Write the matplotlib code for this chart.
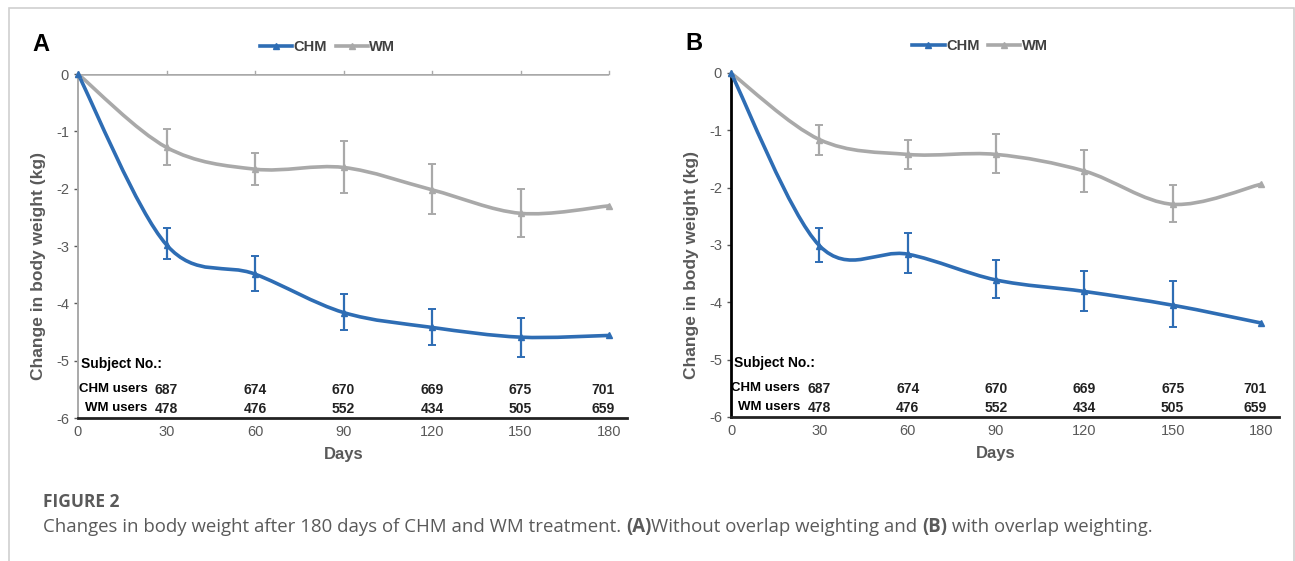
import numpy as np
import matplotlib.pyplot as plt
from matplotlib.path import Path
from matplotlib.patches import PathPatch, Rectangle
from matplotlib.lines import Line2D

plt.rcParams['font.family'] = ['Liberation Sans', 'DejaVu Sans']
plt.rcParams['axes.unicode_minus'] = False

# data
days = [0, 30, 60, 90, 120, 150, 180]

a_chm = [0, -2.98, -3.49, -4.16, -4.42, -4.59, -4.56]
a_chm_hi = [0, -2.69, -3.17, -3.84, -4.10, -4.26, -4.56]
a_chm_lo = [0, -3.23, -3.78, -4.47, -4.73, -4.93, -4.56]
a_wm = [0, -1.28, -1.66, -1.63, -2.02, -2.43, -2.30]
a_wm_hi = [0, -0.96, -1.37, -1.16, -1.57, -2.01, -2.30]
a_wm_lo = [0, -1.59, -1.94, -2.08, -2.45, -2.85, -2.30]

b_chm = [0, -3.01, -3.16, -3.61, -3.81, -4.05, -4.36]
b_chm_hi = [0, -2.71, -2.79, -3.26, -3.45, -3.62, -4.36]
b_chm_lo = [0, -3.30, -3.49, -3.93, -4.15, -4.43, -4.36]
b_wm = [0, -1.16, -1.42, -1.42, -1.71, -2.29, -1.94]
b_wm_hi = [0, -0.90, -1.16, -1.07, -1.35, -1.96, -1.94]
b_wm_lo = [0, -1.43, -1.67, -1.75, -2.07, -2.60, -1.94]

chm_users = [687, 674, 670, 669, 675, 701]
wm_users = [478, 476, 552, 434, 505, 659]

BLUE = '#2e6db4'
GRAY = '#a9a9a9'
TXT = '#595959'


def smooth_path(x, y):
    # Excel-style smoothed line: cubic bezier segments through the points
    x = np.asarray(x, float)
    y = np.asarray(y, float)
    n = len(x)
    verts = [(x[0], y[0])]
    codes = [Path.MOVETO]
    for i in range(n - 1):
        p0 = np.array([x[max(i - 1, 0)], y[max(i - 1, 0)]])
        p1 = np.array([x[i], y[i]])
        p2 = np.array([x[i + 1], y[i + 1]])
        p3 = np.array([x[min(i + 2, n - 1)], y[min(i + 2, n - 1)]])
        c1 = p1 + (p2 - p0) / 6
        c2 = p2 - (p3 - p1) / 6
        verts += [tuple(c1), tuple(c2), tuple(p2)]
        codes += [Path.CURVE4] * 3
    return Path(verts, codes)


def draw_panel(ax, chm, chm_hi, chm_lo, wm, wm_hi, wm_lo, letter, left_col, gray_top):
    for vals, hi, lo, col in [(wm, wm_hi, wm_lo, GRAY), (chm, chm_hi, chm_lo, BLUE)]:
        ax.add_patch(PathPatch(smooth_path(days, vals), fill=False, edgecolor=col,
                               lw=2.6, zorder=3, capstyle='round'))
        v = np.array(vals)
        yerr = [v - np.array(lo), np.array(hi) - v]
        ax.errorbar(days[1:6], vals[1:6], yerr=[yerr[0][1:6], yerr[1][1:6]], fmt='none',
                    ecolor=col, elinewidth=1.6, capsize=3, capthick=1.4, zorder=3)
        ax.plot(days, vals, ls='none', marker='^', ms=5, color=col, zorder=4, clip_on=False)

    ax.set_xlim(0, 180)
    ax.set_ylim(-6, 0)
    ax.set_xticks(days)
    ax.set_yticks(range(-6, 1))
    ax.tick_params(axis='both', colors=TXT, labelsize=10.5, length=3, width=1)
    ax.tick_params(axis='x', length=0, pad=5)
    for s in ['top', 'right', 'bottom']:
        ax.spines[s].set_visible(False)
    ax.spines['left'].set_color(left_col)
    ax.spines['left'].set_linewidth(1.4 if left_col != 'black' else 2)

    # bottom black line (table border)
    ax.add_line(Line2D([0, 186], [-6, -6], color='#222222', lw=2, clip_on=False, zorder=5))
    if gray_top:
        ax.axhline(0, color=GRAY, lw=1.8, zorder=2)
        for d in days[1:]:
            ax.plot([d, d], [0, 0.06], color=GRAY, lw=1, clip_on=False)

    ax.set_xlabel('Days', fontsize=12, fontweight='bold', color=TXT, labelpad=6)
    ax.set_ylabel('Change in body weight (kg)', fontsize=12.5, fontweight='bold',
                  color=TXT)
    ax.yaxis.set_label_coords(-0.06, 0.442)

    # subject number table
    ax.text(1, -5.05, 'Subject No.:', fontsize=10, fontweight='bold', color='black',
            va='center', ha='left')
    ax.text(23.5, -5.5, 'CHM users', fontsize=9.5, fontweight='bold', color='black',
            va='center', ha='right')
    ax.text(23.5, -5.82, 'WM users', fontsize=9.5, fontweight='bold', color='black',
            va='center', ha='right')
    for d, c, w in zip(days[1:], chm_users, wm_users):
        xd = min(d, 178)
        ax.text(xd, -5.52, str(c), fontsize=10, fontweight='bold', color='#222222',
                va='center', ha='center')
        ax.text(xd, -5.84, str(w), fontsize=10, fontweight='bold', color='#222222',
                va='center', ha='center')

    handles = [Line2D([], [], color=BLUE, lw=2.6, marker='^', ms=5),
               Line2D([], [], color=GRAY, lw=2.6, marker='^', ms=5)]
    ax.legend(handles, ['CHM', 'WM'], loc='lower center', bbox_to_anchor=(0.47, 1.04),
              ncol=2, frameon=False, handlelength=2.2, handletextpad=0.1,
              columnspacing=0.6, borderaxespad=0,
              prop={'weight': 'bold', 'size': 10.5}, labelcolor='#404040')
    ax.text(-0.07, 1.085, letter, transform=ax.transAxes, fontsize=17,
            fontweight='bold', color='black', va='center', ha='center')


fig = plt.figure(figsize=(12.95, 5.61), dpi=100)

fig.patches.append(Rectangle((9 / 1295, -0.1), 1284.5 / 1295, 1.1 - 7.5 / 561,
                             transform=fig.transFigure, fill=False,
                             edgecolor='#d0d0d0', lw=1.2))

ax1 = fig.add_axes([78 / 1295, 1 - 418 / 561, 531 / 1295, 344 / 561])
ax2 = fig.add_axes([731 / 1295, 1 - 417 / 561, 530 / 1295, 344 / 561])

draw_panel(ax1, a_chm, a_chm_hi, a_chm_lo, a_wm, a_wm_hi, a_wm_lo, 'A', GRAY, True)
draw_panel(ax2, b_chm, b_chm_hi, b_chm_lo, b_wm, b_wm_hi, b_wm_lo, 'B', 'black', False)

# caption
cap_col = '#5a5a5a'
cap_x = 43 / 1295
fig.text(cap_x, 1 - 502 / 561, 'FIGURE 2', fontsize=12.5, fontweight='bold',
         color=cap_col, va='center', family='Open Sans')
parts = [('Changes in body weight after 180 days of CHM and WM treatment. ', 'normal'),
         ('(A)', 'bold'), ('Without overlap weighting and ', 'normal'),
         ('(B)', 'bold'), (' with overlap weighting.', 'normal')]
texts = []
for txt, wt in parts:
    texts.append(fig.text(cap_x, 1 - 527 / 561, txt, fontsize=13.4, color=cap_col,
                          fontweight=wt, family='Open Sans', va='center'))

# position the caption pieces one after another
fig.canvas.draw()
r = fig.canvas.get_renderer()
x = texts[0].get_window_extent(r).x1
y = texts[0].get_position()[1]
for t in texts[1:]:
    t.set_position((x / fig.bbox.width, y))
    x = t.get_window_extent(r).x1

fig.savefig('out.png', dpi=100)
